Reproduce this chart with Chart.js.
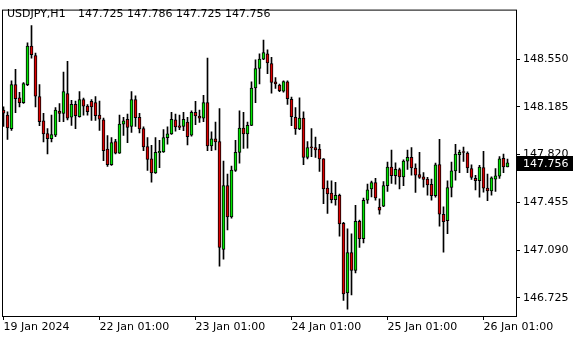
<!DOCTYPE html>
<html>
<head>
<meta charset="utf-8">
<title>USDJPY,H1</title>
<script src="https://cdn.jsdelivr.net/npm/chart.js@4.4.1/dist/chart.umd.min.js"></script>
<style>
  html, body { margin: 0; padding: 0; background: #fff; overflow: hidden; }
  canvas { display: block; }
</style>
</head>
<body>
<canvas id="chart" width="580" height="340"></canvas>
<script>
/* ---------- data: USDJPY H1 candles ---------- */
const symbol = 'USDJPY,H1';

const opens = [
  148.160, 148.122, 148.018, 148.354, 148.254, 148.217, 148.354, 148.650, 148.577, 148.264,
  148.078, 147.981, 147.941, 147.968, 148.152, 148.135, 148.287, 148.105, 148.204, 148.110,
  148.240, 148.190, 148.227, 148.217, 148.122, 148.085, 147.861, 147.742, 147.919, 147.831,
  148.053, 148.090, 148.035, 148.240, 148.105, 148.018, 147.881, 147.787, 147.680, 147.834,
  147.841, 147.949, 147.978, 148.085, 148.040, 148.035, 148.068, 147.968, 148.143, 148.115,
  148.098, 148.217, 147.886, 147.941, 147.919, 147.095, 147.583, 147.344, 147.699, 147.837,
  148.023, 147.978, 148.043, 148.329, 148.478, 148.550, 148.590, 148.516, 148.376, 148.351,
  148.304, 148.376, 148.242, 148.105, 148.016, 148.098, 147.799, 147.874, 147.874, 147.861,
  147.787, 147.563, 147.526, 147.476, 147.509, 147.294, 146.763, 147.071, 146.934, 147.309,
  147.177, 147.471, 147.558, 147.605, 147.419, 147.426, 147.583, 147.725, 147.658, 147.705,
  147.650, 147.770, 147.799, 147.717, 147.667, 147.650, 147.632, 147.593, 147.506, 147.744,
  147.364, 147.315, 147.568, 147.695, 147.819, 147.837, 147.831, 147.712, 147.638, 147.620,
  147.720, 147.563, 147.543, 147.632, 147.655, 147.792, 147.725
];
const highs = [
  148.184, 148.147, 148.384, 148.471, 148.296, 148.371, 148.674, 148.806, 148.595, 148.354,
  148.135, 148.018, 148.122, 148.180, 148.210, 148.451, 148.533, 148.234, 148.229, 148.301,
  148.251, 148.202, 148.240, 148.264, 148.229, 148.098, 147.966, 147.949, 147.936, 148.122,
  148.105, 148.130, 148.301, 148.269, 148.135, 148.031, 147.949, 147.891, 147.949, 147.929,
  148.011, 148.031, 148.143, 148.130, 148.122, 148.143, 148.105, 148.154, 148.227, 148.160,
  148.272, 148.557, 147.993, 148.068, 148.172, 147.770, 147.670, 147.732, 147.929, 148.154,
  148.143, 148.068, 148.376, 148.545, 148.590, 148.695, 148.620, 148.563, 148.408, 148.359,
  148.384, 148.384, 148.259, 148.180, 148.254, 148.147, 147.919, 148.018, 147.953, 147.899,
  147.790, 147.620, 147.620, 147.608, 147.518, 147.302, 147.252, 147.215, 147.431, 147.319,
  147.488, 147.595, 147.617, 147.638, 147.481, 147.613, 147.762, 147.854, 147.757, 147.717,
  147.779, 147.854, 147.874, 147.749, 147.837, 147.682, 147.645, 147.632, 147.755, 147.936,
  147.421, 147.620, 147.762, 147.899, 147.854, 147.878, 147.841, 147.742, 147.662, 147.737,
  147.844, 147.670, 147.650, 147.712, 147.804, 147.824, 147.786
];
const lows = [
  148.035, 147.936, 148.005, 148.140, 148.184, 148.210, 148.346, 148.557, 148.184, 148.040,
  147.916, 147.824, 147.916, 147.956, 148.072, 148.072, 148.085, 148.043, 148.018, 148.105,
  148.122, 148.122, 148.080, 148.080, 148.005, 147.774, 147.729, 147.737, 147.824, 147.829,
  147.966, 147.911, 147.990, 148.035, 147.986, 147.849, 147.699, 147.608, 147.675, 147.720,
  147.837, 147.899, 147.973, 147.998, 148.011, 148.003, 147.893, 147.961, 148.048, 148.065,
  148.072, 147.849, 147.849, 147.856, 146.966, 147.021, 147.244, 147.334, 147.692, 147.755,
  147.867, 147.869, 148.040, 148.217, 148.359, 148.545, 148.438, 148.289, 148.326, 148.301,
  148.296, 148.204, 148.040, 147.973, 148.011, 147.742, 147.787, 147.804, 147.799, 147.692,
  147.444, 147.371, 147.451, 147.434, 147.197, 146.705, 146.638, 146.748, 146.916, 147.110,
  147.145, 147.446, 147.496, 147.471, 147.364, 147.421, 147.538, 147.600, 147.593, 147.558,
  147.583, 147.707, 147.662, 147.531, 147.638, 147.570, 147.509, 147.471, 147.494, 147.272,
  147.073, 147.215, 147.496, 147.625, 147.682, 147.767, 147.682, 147.630, 147.550, 147.494,
  147.533, 147.468, 147.509, 147.538, 147.638, 147.682, 147.725
];
const closes = [
  148.137, 148.023, 148.354, 148.247, 148.217, 148.363, 148.650, 148.583, 148.266, 148.072,
  147.978, 147.941, 147.973, 148.160, 148.135, 148.301, 148.098, 148.204, 148.117, 148.240,
  148.190, 148.147, 148.184, 148.117, 148.090, 147.849, 147.742, 147.911, 147.831, 148.053,
  148.078, 148.028, 148.240, 148.102, 148.016, 147.878, 147.782, 147.680, 147.837, 147.844,
  147.949, 147.978, 148.090, 148.031, 148.028, 148.090, 147.956, 148.143, 148.115, 148.098,
  148.217, 147.886, 147.941, 147.916, 147.110, 147.583, 147.344, 147.702, 147.837, 148.023,
  147.978, 148.043, 148.329, 148.478, 148.550, 148.600, 148.520, 148.371, 148.359, 148.309,
  148.378, 148.247, 148.110, 148.016, 148.098, 147.799, 147.874, 147.872, 147.856, 147.787,
  147.558, 147.520, 147.476, 147.509, 147.289, 146.755, 147.071, 146.934, 147.309, 147.177,
  147.471, 147.550, 147.605, 147.488, 147.394, 147.583, 147.725, 147.658, 147.707, 147.650,
  147.770, 147.799, 147.717, 147.662, 147.645, 147.630, 147.588, 147.506, 147.742, 147.364,
  147.307, 147.568, 147.695, 147.824, 147.837, 147.836, 147.717, 147.645, 147.620, 147.725,
  147.563, 147.543, 147.643, 147.658, 147.787, 147.725, 147.756
];

// one label every 24 bars, as on the time axis
const dayTicks = [0, 24, 48, 72, 96, 120];
const dayLabels = ['19 Jan 2024', '22 Jan 01:00', '23 Jan 01:00', '24 Jan 01:00', '25 Jan 01:00', '26 Jan 01:00'];
const priceTicks = [146.725, 147.090, 147.455, 147.820, 148.185, 148.550];

/* ---------- look ---------- */
const BULL = '#00e600';
const BEAR = '#dc0000';
const FONT = 'DejaVu Sans';

Chart.defaults.font.family = FONT;
Chart.defaults.font.size = 11;
Chart.defaults.color = '#000';

const isBull = i => closes[i] >= opens[i];

// frame, header line and last-price box
const mtOverlay = {
  id: 'mtOverlay',
  afterDraw(chart) {
    const { ctx, chartArea: a } = chart;
    const yScale = chart.scales.y;
    ctx.save();
    ctx.strokeStyle = '#000';
    ctx.lineWidth = 1;
    ctx.strokeRect(a.left + 0.5, a.top + 0.5, a.right - a.left, a.bottom - a.top);

    ctx.font = '11px "' + FONT + '"';
    ctx.fillStyle = '#000';
    ctx.textBaseline = 'alphabetic';
    ctx.textAlign = 'left';
    const last = closes.length - 1;
    ctx.fillText(symbol, 7, 17);
    ctx.fillText([opens[last], highs[last], lows[last], closes[last]].map(v => v.toFixed(3)).join(' '), 78, 17);

    const y = Math.round(yScale.getPixelForValue(closes[last]));
    ctx.fillStyle = '#000';
    ctx.fillRect(a.right + 1, y - 7, 56, 15);
    ctx.fillStyle = '#fff';
    ctx.textBaseline = 'middle';
    ctx.fillText(closes[last].toFixed(3), a.right + 7, y + 1);
    ctx.restore();
  }
};

new Chart(document.getElementById('chart'), {
  type: 'bar',
  data: {
    datasets: [
      {
        // bodies drawn on top of the wicks
        label: 'body',
        data: opens.map((o, i) => ({ x: i, y: [o, closes[i]] })),
        backgroundColor: ctx => isBull(ctx.dataIndex) ? BULL : BEAR,
        borderColor: '#000',
        borderWidth: 1,
        borderSkipped: false,
        barThickness: 3,
        minBarLength: 1,
        grouped: false
      },
      {
        label: 'wick',
        data: lows.map((l, i) => ({ x: i, y: [l, highs[i]] })),
        backgroundColor: '#000',
        borderWidth: 0,
        barThickness: 1,
        grouped: false
      }
    ]
  },
  options: {
    responsive: false,
    animation: false,
    devicePixelRatio: 1,
    events: [],
    layout: { padding: { left: 2, top: 2, right: 0, bottom: 0 } },
    plugins: {
      legend: { display: false },
      tooltip: { enabled: false },
      title: { display: false }
    },
    scales: {
      x: {
        type: 'linear',
        min: -0.375,
        max: 128.125,
        offset: false,
        afterBuildTicks: s => { s.ticks = dayTicks.map(v => ({ value: v })); },
        afterFit: s => { s.height = 24; },
        ticks: {
          callback: (v, i) => dayLabels[i],
          align: 'start',
          maxRotation: 0,
          autoSkip: false,
          padding: 1,
          font: { family: FONT, size: 11 },
          color: '#000'
        },
        grid: { drawOnChartArea: false, drawTicks: true, tickLength: 4, color: '#000', offset: false },
        border: { display: false }
      },
      y: {
        position: 'right',
        min: 146.586,
        max: 148.928,
        afterBuildTicks: s => { s.ticks = priceTicks.map(v => ({ value: v })); },
        afterFit: s => { s.width = 64; },
        ticks: {
          callback: v => Number(v).toFixed(3),
          padding: 3,
          autoSkip: false,
          font: { family: FONT, size: 11 },
          color: '#000'
        },
        grid: { drawOnChartArea: false, drawTicks: true, tickLength: 4, color: '#000' },
        border: { display: false }
      }
    }
  },
  plugins: [mtOverlay]
});
</script>
</body>
</html>
